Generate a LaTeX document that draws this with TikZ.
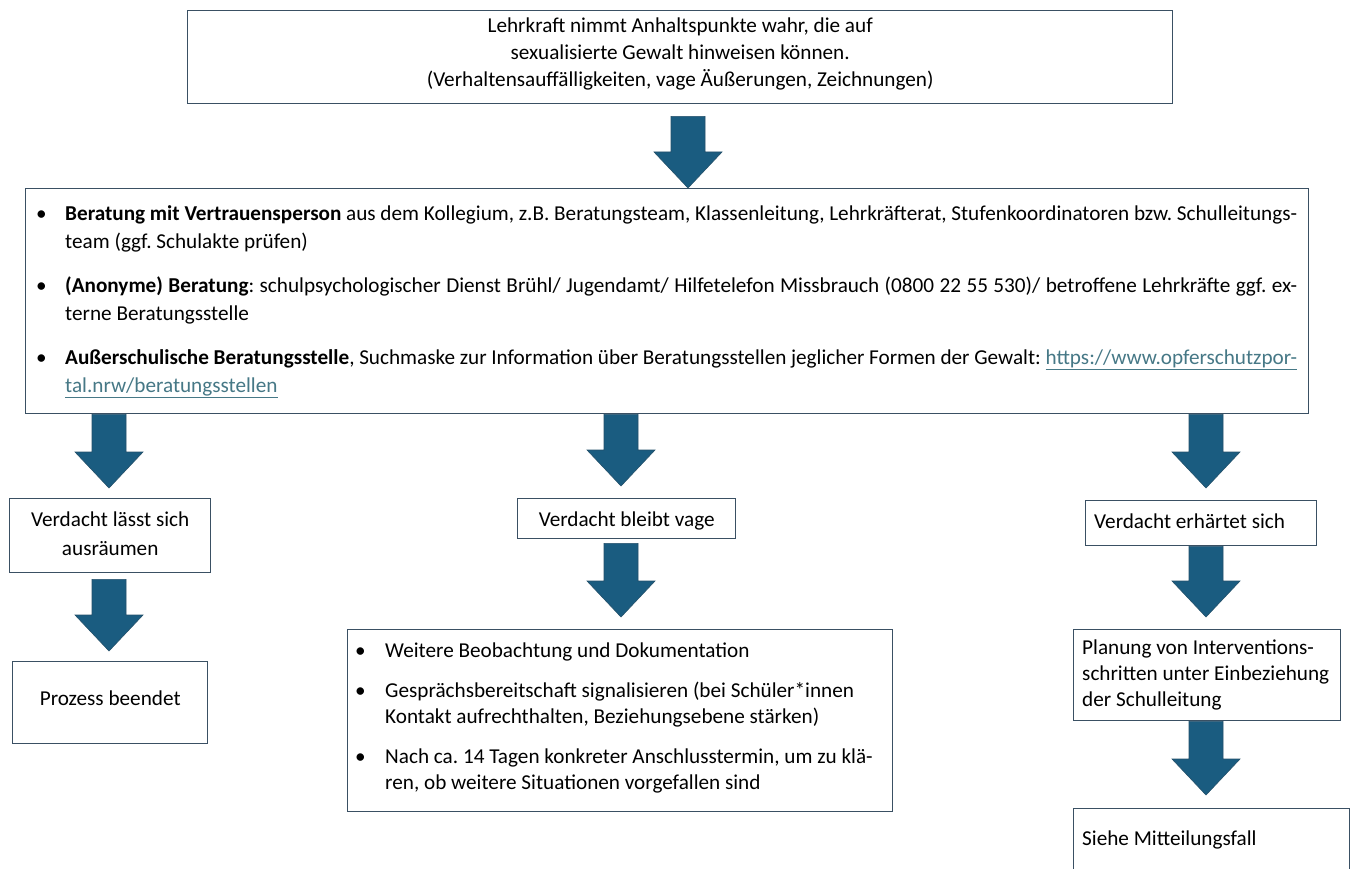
\documentclass[tikz,border=0pt]{standalone}
\usepackage{fontspec}
\setmainfont{Carlito}
\usetikzlibrary{calc}
\frenchspacing
\definecolor{arrowblue}{HTML}{1A5C80}
\definecolor{arrowedge}{HTML}{24506A}
\definecolor{boxline}{HTML}{3A5063}
\definecolor{linkc}{HTML}{467886}
\newcommand\linktext[1]{\textcolor{linkc}{\underline{#1}}}
\newcommand\blockarrow[4]{%
  \path[blockarr] let \p1=#1, \p2=#2 in
    ({\x1-17pt},{\y1-#3pt}) -- ({\x1+17pt},{\y1-#3pt}) -- ({\x1+17pt},{\y2+#4pt+36pt})
    -- ({\x1+34pt},{\y2+#4pt+36pt}) -- ({\x1},{\y2+#4pt}) -- ({\x1-34pt},{\y2+#4pt+36pt})
    -- ({\x1-17pt},{\y2+#4pt+36pt}) -- cycle;}
\begin{document}
\begin{tikzpicture}[x=1pt,y=-1pt,
  box/.style={draw=boxline,line width=1.4pt,fill=white,rectangle,inner sep=0pt,anchor=north west},
  blockarr/.style={fill=arrowblue,draw=arrowedge,line width=0.6pt},
  txt/.style={inner sep=0pt,font=\fontsize{21.2}{27}\selectfont}]
\useasboundingbox[fill=white] (0,0) rectangle (1355,869);
\coordinate (colT) at (688,0);
\coordinate (colL) at (109,0);
\coordinate (colM) at (621,0);
\coordinate (colR) at (1206,0);

% boxes
\node[box,minimum width=985pt,minimum height=93pt] (top) at (187,10) {};
\node[box,minimum width=1283pt,minimum height=225pt] (big) at (25,188) {};
\node[box,minimum width=201pt,minimum height=74pt] (ausr) at (9,498) {};
\node[box,minimum width=195pt,minimum height=82pt] (proz) at (12,661) {};
\node[box,minimum width=218pt,minimum height=40pt] (vage) at (517,498) {};
\node[box,minimum width=545pt,minimum height=182pt] (beob) at (347,629) {};
\node[box,minimum width=231pt,minimum height=45pt] (erh) at (1085,500) {};
\node[box,minimum width=267pt,minimum height=91pt] (plan) at (1073,629) {};
\node[box,minimum width=276pt,minimum height=100pt] (siehe) at (1073,808) {};

% texts
\node[txt,align=center] (toptext) at ($(top.center)+(0,-3)$)
  {Lehrkraft nimmt Anhaltspunkte wahr, die auf\\sexualisierte Gewalt hinweisen können.\\(Verhaltensauffälligkeiten, vage Äußerungen, Zeichnungen)};

\node[txt,align=left,anchor=north west,font=\fontsize{21.2}{28}\selectfont] (bigtext) at (36,205)
  {\makebox[29pt][l]{\textbullet}\makebox[1232pt][s]{\textbf{Beratung mit Vertrauensperson} aus dem Kollegium, z.B. Beratungsteam, Klassenleitung, Lehrkräfterat, Stufenkoordinatoren bzw. Schulleitungs-}\\
   \hspace*{29pt}team (ggf. Schulakte prüfen)\\[16pt]
   \makebox[29pt][l]{\textbullet}\makebox[1232pt][s]{\textbf{(Anonyme) Beratung}: schulpsychologischer Dienst Brühl/ Jugendamt/ Hilfetelefon Missbrauch (0800 22 55 530)/ betroffene Lehrkräfte ggf. ex-}\\
   \hspace*{29pt}terne Beratungsstelle\\[16pt]
   \makebox[29pt][l]{\textbullet}\makebox[1232pt][s]{\textbf{Außerschulische Beratungsstelle}, Suchmaske zur Information über Beratungsstellen jeglicher Formen der Gewalt: \linktext{https://www.opferschutzpor-}}\\
   \hspace*{29pt}\linktext{tal.nrw/beratungsstellen}};

\node[txt,align=center,font=\fontsize{21.2}{29}\selectfont] (ausrtext) at ($(ausr.center)+(0,-2)$) {Verdacht lässt sich\\ausräumen};
\node[txt] (proztext) at ($(proz.center)+(0,-4)$) {Prozess beendet};
\node[txt] (vagetext) at ($(vage.center)+(0,2)$) {Verdacht bleibt vage};
\node[txt,anchor=west] (erhtext) at ($(erh.west)+(9,-2)$) {Verdacht erhärtet sich};
\node[txt,align=left,anchor=north west,font=\fontsize{21.2}{26}\selectfont] (plantext) at (1082,640)
  {Planung von Interventions-\\schritten unter Einbeziehung\\der Schulleitung};
\node[txt,anchor=north west] (siehetext) at (1082,831) {Siehe Mitteilungsfall};

\node[txt,align=left,anchor=north west,font=\fontsize{21.2}{26}\selectfont] (beobtext) at (355,643)
  {\makebox[30pt][l]{\textbullet}Weitere Beobachtung und Dokumentation\\[14pt]
   \makebox[30pt][l]{\textbullet}Gesprächsbereitschaft signalisieren (bei Schüler*innen\\
   \hspace*{30pt}Kontakt aufrechthalten, Beziehungsebene stärken)\\[14pt]
   \makebox[30pt][l]{\textbullet}Nach ca. 14 Tagen konkreter Anschlusstermin, um zu klä-\\
   \hspace*{30pt}ren, ob weitere Situationen vorgefallen sind};

% arrows
\blockarrow{(top.south -| colT)}{(big.north -| colT)}{12}{0}
\blockarrow{(big.south -| colL)}{(ausr.north -| colL)}{0}{10}
\blockarrow{(big.south -| colM)}{(vage.north -| colM)}{0}{12}
\blockarrow{(big.south -| colR)}{(erh.north -| colR)}{0}{12}
\blockarrow{(ausr.south -| colL)}{(proz.north -| colL)}{6}{10}
\blockarrow{(vage.south -| colM)}{(beob.north -| colM)}{4}{12}
\blockarrow{(erh.south -| colR)}{(plan.north -| colR)}{0}{12}
\blockarrow{(plan.south -| colR)}{(siehe.north -| colR)}{0}{13}
\end{tikzpicture}
\end{document}
